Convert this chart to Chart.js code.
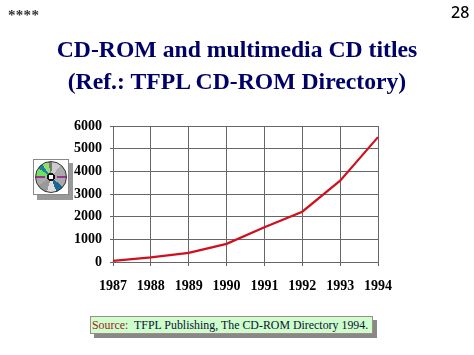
<!DOCTYPE html>
<html>
<head>
<meta charset="utf-8">
<script src="https://cdn.jsdelivr.net/npm/chart.js@4"></script>
<style>
  html, body { margin: 0; padding: 0; background: #fff; }
  #page { position: relative; width: 474px; height: 355px; overflow: hidden; font-family: "Liberation Serif", serif; }
  #page > * { position: absolute; }
  #autorChart { left: 0; top: 0; }
  .title { left: 0; width: 474px; text-align: center; font-weight: bold; font-size: 23.7px; line-height: 30px; color: #000066; white-space: nowrap; }
  #stars { left: 8px; top: 7px; font-size: 15px; font-weight: bold; color: #333; letter-spacing: 0.3px; }
  #num { left: 451px; top: 1px; font: 500 16px/22px "Noto Sans", sans-serif; color: #000; }
  #iconShadow { left: 37px; top: 163px; width: 36px; height: 37px; background: #999; }
  #icon { left: 33px; top: 159px; width: 34px; height: 34px; border: 1px solid #888; background: #fff; }
  #disc { left: 35px; top: 161px; width: 30px; height: 30px; border: 1px solid #333; border-radius: 50%;
    background: radial-gradient(circle, #fff 0 2.5px, #111 2.5px 4px, transparent 4px),
      conic-gradient(#777 0 5deg, #ccc 5deg 40deg, #aaa 40deg 85deg, #a03090 85deg 95deg, #aaa 95deg 130deg, #1a6a90 130deg 160deg, #ddd 160deg 195deg, #999 195deg 235deg, #aaa 235deg 265deg, #a03090 265deg 275deg, #70e060 275deg 305deg, #2080a0 305deg 325deg, #90e070 325deg 350deg, #777 350deg); }
  #srcShadow { left: 94px; top: 320px; width: 283px; height: 18px; background: #888; }
  #src { left: 90px; top: 316px; width: 281px; height: 16px; border: 1px solid #a88; background: #ccffcc; font-size: 11.9px; line-height: 16px; color: #113; white-space: nowrap; text-indent: 1px; }
  #src span { color: #a02020; }
</style>
</head>
<body>
<div id="page">
  <canvas id="autorChart" width="474" height="355"></canvas>
  <div id="stars">****</div>
  <div id="num">28</div>
  <div class="title" style="top:34px">CD-ROM and multimedia CD titles</div>
  <div class="title" style="top:66px">(Ref.: TFPL CD-ROM Directory)</div>
  <div id="iconShadow"></div>
  <div id="icon"></div>
  <div id="disc"></div>
  <div id="srcShadow"></div>
  <div id="src"><span>Source:</span>&nbsp; TFPL Publishing, The CD-ROM Directory 1994.</div>
</div>
<script>
const years = ['1987', '1988', '1989', '1990', '1991', '1992', '1993', '1994'];
const titles = [50, 200, 400, 800, 1530, 2220, 3590, 5510];
const yMax = 6000;
const yStep = 1000;

const ctx = document.getElementById('autorChart').getContext('2d');
new Chart(ctx, {
  type: 'line',
  data: {
    labels: years,
    datasets: [{
      data: titles,
      borderColor: '#d0101c',
      borderWidth: 2.2,
      pointRadius: 0,
      tension: 0
    }]
  },
  options: {
    responsive: false,
    animation: false,
    layout: { padding: { left: 0, top: 126, right: 96, bottom: 0 } },
    plugins: { legend: { display: false }, title: { display: false }, tooltip: { enabled: false } },
    scales: {
      x: {
        offset: false,
        afterFit: scale => { scale.height = 93; },
        grid: { color: '#666', lineWidth: 1, tickLength: 4, drawTicks: true },
        border: { color: '#666' },
        ticks: {
          color: '#000',
          maxRotation: 0,
          autoSkip: false,
          padding: 12,
          font: { family: 'Liberation Serif', size: 14, weight: 'bold' }
        }
      },
      y: {
        min: 0,
        max: yMax,
        afterFit: scale => { scale.width = 113; },
        grid: { color: '#666', lineWidth: 1, tickLength: 3 },
        border: { color: '#666' },
        ticks: {
          stepSize: yStep,
          color: '#000',
          padding: 8,
          callback: value => String(value),
          font: { family: 'Liberation Serif', size: 14, weight: 'bold' }
        }
      }
    }
  }
});
</script>
</body>
</html>
